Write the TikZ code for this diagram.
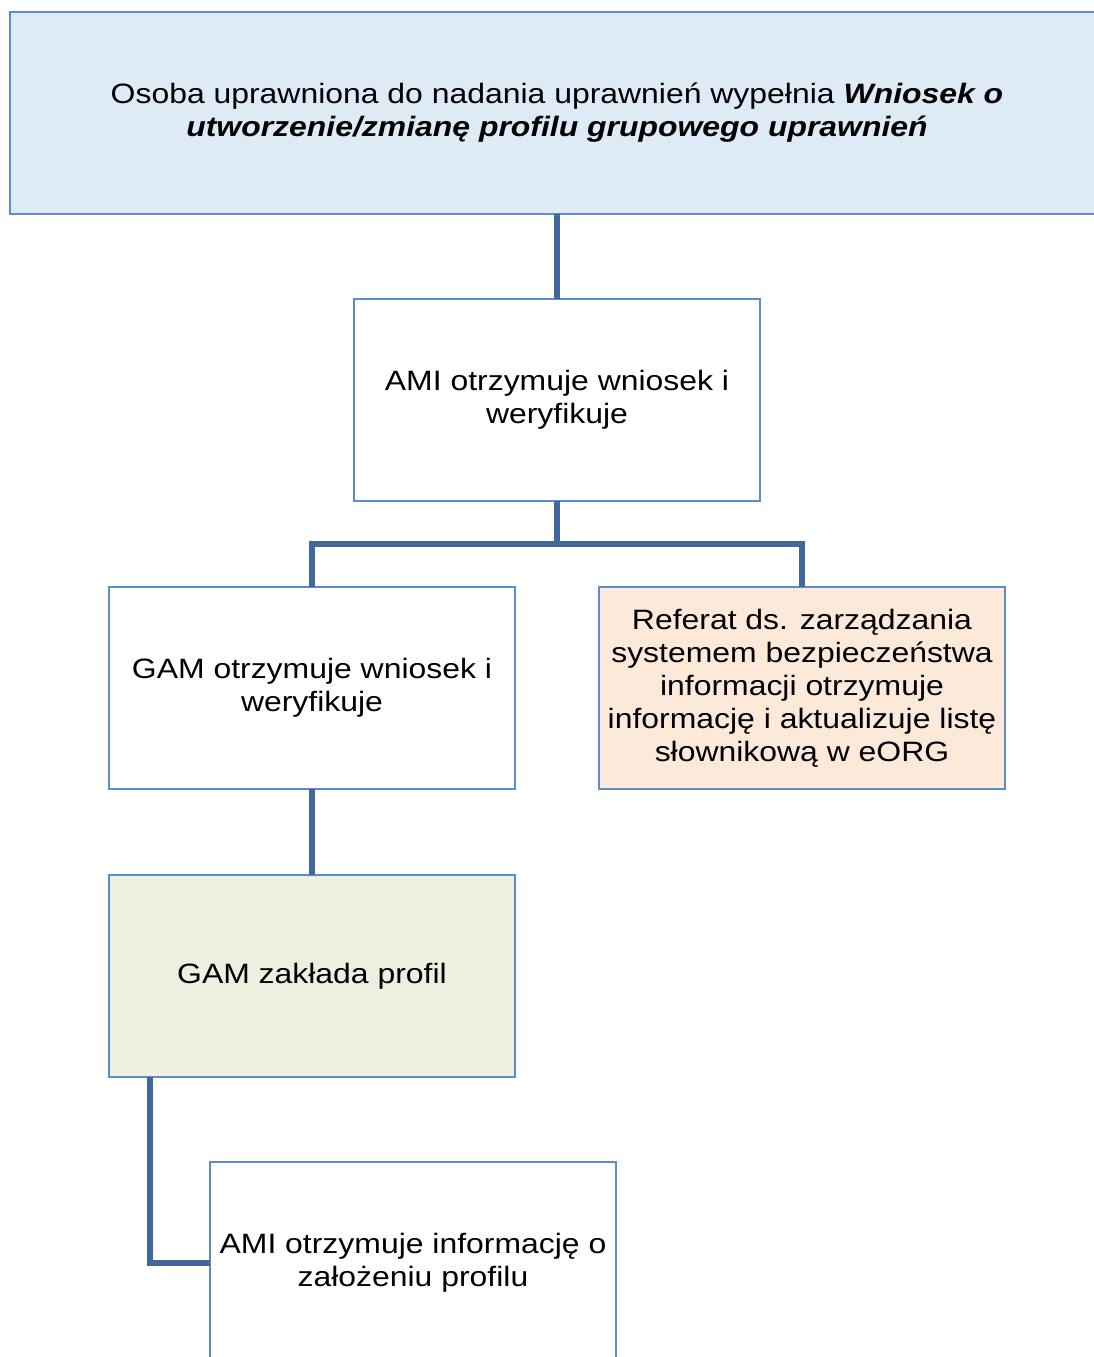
\documentclass[tikz,border=0pt]{standalone}
\usepackage{fontspec}
\setmainfont[FakeStretch=1.14]{Liberation Sans}
\usetikzlibrary{positioning,calc}
\definecolor{boxline}{HTML}{5B8CC8}
\definecolor{linkline}{HTML}{41689B}
\definecolor{topfill}{HTML}{DEEAF6}
\definecolor{reffill}{HTML}{FDE9D9}
\definecolor{gamfill}{HTML}{EBF1DE}

\begin{document}
\begin{tikzpicture}[x=1pt,y=1pt]
\tikzstyle{stepbox}=[draw=boxline,line width=2.5pt,fill=white,outer sep=0pt,inner sep=4pt,minimum width=406pt,minimum height=202pt,align=center,font=\fontsize{28}{33}\selectfont]
\tikzstyle{link}=[draw=linkline,line width=5.5pt]

\useasboundingbox (0,0) rectangle (1093,-1357);

\node [stepbox,fill=topfill,minimum width=1094pt] (top) at (557,-113) {Osoba uprawniona do nadania uprawnień wypełnia \textbf{\textit{Wniosek o}}\\ \textbf{\textit{utworzenie/zmianę profilu grupowego uprawnień}}};
\node [stepbox] (ami) [below=85pt of top] {AMI otrzymuje wniosek i\\ weryfikuje};
\node [stepbox] (gam) [below=86pt of ami,xshift=-245pt] {GAM otrzymuje wniosek i\\ weryfikuje};
\node [stepbox,fill=reffill] (ref) [right=84pt of gam] {Referat ds. zarządzania\\ systemem bezpieczeństwa\\ informacji otrzymuje\\ informację i aktualizuje listę\\ słownikową w eORG};
\node [stepbox,fill=gamfill] (zak) [below=86pt of gam] {GAM zakłada profil};
\node [stepbox] (info) [below=85pt of zak,xshift=101pt] {AMI otrzymuje informację o\\ założeniu profilu};

\coordinate (split) at ($(ami.south)+(0,-43)$);
\coordinate (drop) at ($(zak.south west)+(41,0)$);

\draw [link] (top) -- (ami);
\draw [link] (ami.south) -- (split) -| (gam.north);
\draw [link] (split) -| (ref.north);
\draw [link] (gam) -- (zak);
\draw [link] (drop) |- (info.west);
\end{tikzpicture}
\end{document}
